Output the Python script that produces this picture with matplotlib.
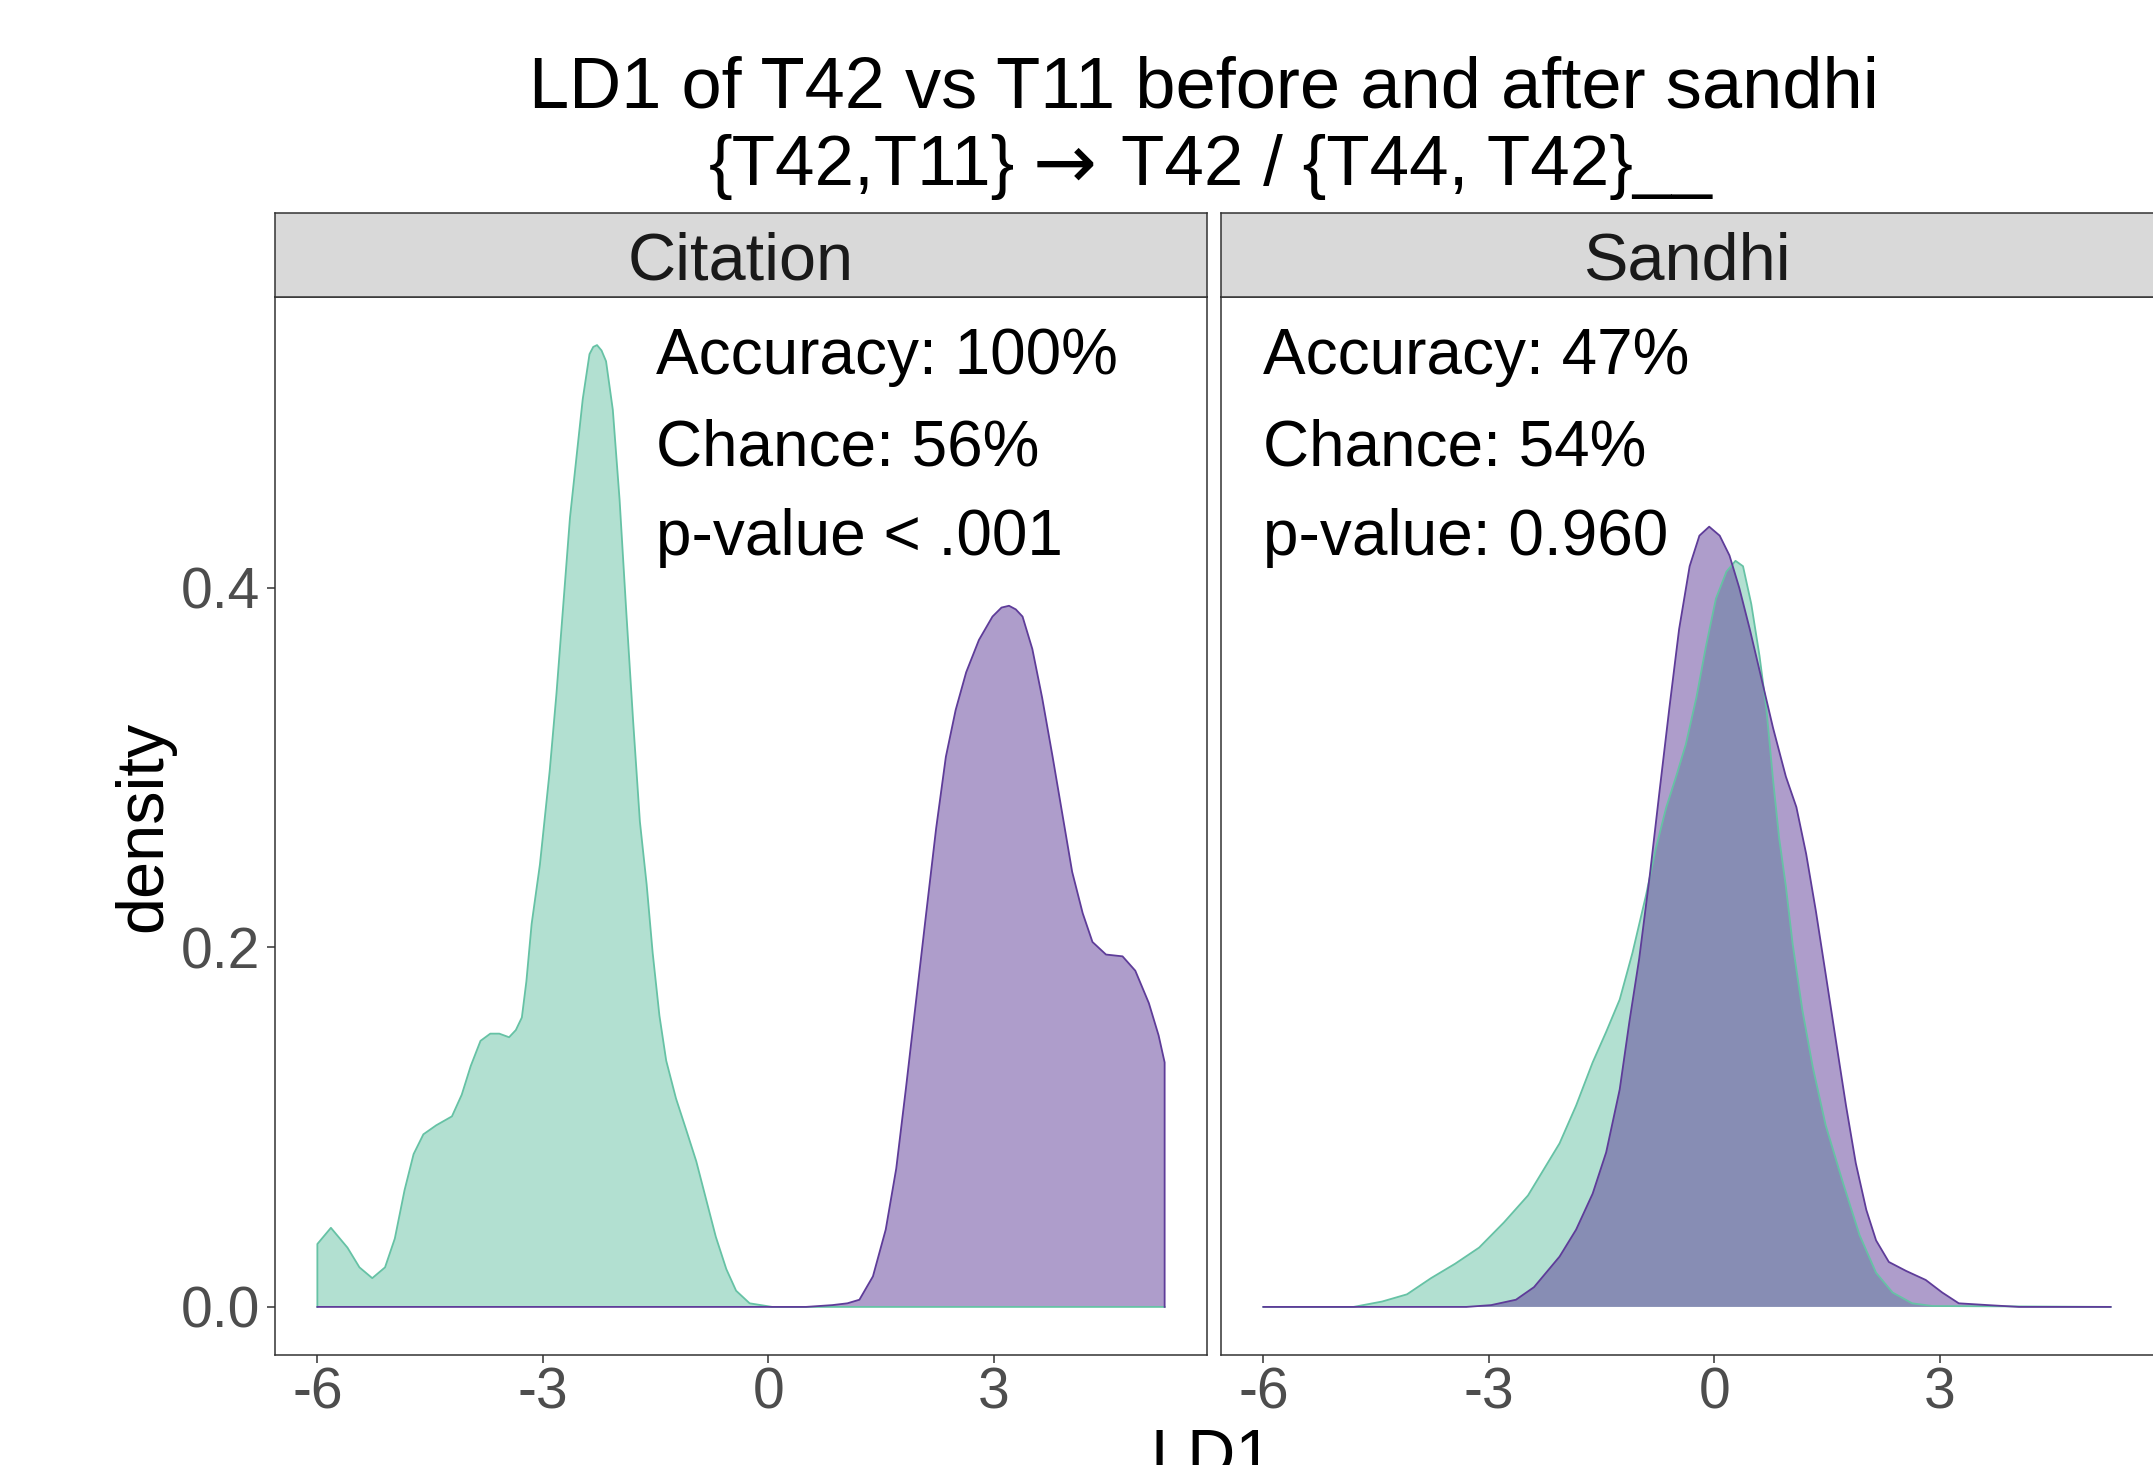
import matplotlib
matplotlib.use("Agg")
import matplotlib.pyplot as plt

plt.rcParams["font.family"] = ["Liberation Sans", "DejaVu Sans"]

# density curves (LD1, density)
cit_green_x = [-6.0, -5.82, -5.6, -5.44, -5.27, -5.1, -4.97, -4.84, -4.72, -4.59, -4.42,
               -4.21, -4.08, -3.96, -3.83, -3.70, -3.58, -3.45, -3.36, -3.28, -3.22, -3.15,
               -3.04, -2.91, -2.82, -2.73, -2.64, -2.55, -2.47, -2.38, -2.33, -2.28, -2.22,
               -2.16, -2.07, -1.98, -1.89, -1.80, -1.71, -1.62, -1.54, -1.45, -1.36, -1.23,
               -1.09, -0.96, -0.83, -0.70, -0.56, -0.43, -0.25, 0.05, 5.27]
cit_green_y = [0.035, 0.044, 0.033, 0.022, 0.016, 0.022, 0.038, 0.065, 0.085, 0.096, 0.101,
               0.106, 0.118, 0.134, 0.148, 0.152, 0.152, 0.150, 0.154, 0.161, 0.181, 0.213,
               0.246, 0.298, 0.341, 0.390, 0.439, 0.474, 0.505, 0.530, 0.534, 0.535, 0.532,
               0.526, 0.499, 0.449, 0.386, 0.326, 0.270, 0.235, 0.197, 0.162, 0.137, 0.116,
               0.098, 0.081, 0.060, 0.039, 0.021, 0.009, 0.002, 0.0, 0.0]

cit_purple_x = [-6.0, 0.5, 0.85, 1.05, 1.21, 1.39, 1.56, 1.70, 1.83, 1.96, 2.09, 2.23, 2.36,
                2.49, 2.63, 2.80, 2.98, 3.10, 3.20, 3.29, 3.38, 3.51, 3.64, 3.78, 3.91, 4.04,
                4.18, 4.31, 4.49, 4.71, 4.88, 5.06, 5.19, 5.27]
cit_purple_y = [0.0, 0.0, 0.001, 0.002, 0.004, 0.017, 0.043, 0.077, 0.122, 0.169, 0.216,
                0.266, 0.306, 0.332, 0.353, 0.371, 0.384, 0.389, 0.390, 0.388, 0.384, 0.366,
                0.339, 0.306, 0.274, 0.242, 0.219, 0.203, 0.196, 0.195, 0.187, 0.169, 0.151,
                0.136]

san_green_x = [-6.0, -4.8, -4.42, -4.09, -3.77, -3.45, -3.13, -2.80, -2.48, -2.06, -1.84,
               -1.62, -1.44, -1.26, -1.09, -0.91, -0.78, -0.64, -0.51, -0.38, -0.24, -0.11,
               0.02, 0.16, 0.28, 0.38, 0.49, 0.60, 0.69, 0.78, 0.86, 0.95, 1.04, 1.17, 1.31,
               1.48, 1.71, 1.93, 2.15, 2.37, 2.63, 2.90, 5.27]
san_green_y = [0.0, 0.0, 0.003, 0.007, 0.016, 0.024, 0.033, 0.047, 0.062, 0.091, 0.112,
               0.136, 0.153, 0.171, 0.197, 0.229, 0.255, 0.278, 0.295, 0.313, 0.339, 0.368,
               0.394, 0.409, 0.415, 0.412, 0.391, 0.362, 0.333, 0.293, 0.261, 0.234, 0.202,
               0.165, 0.133, 0.101, 0.069, 0.040, 0.019, 0.008, 0.002, 0.0005, 0.0]

san_purple_x = [-6.0, -3.3, -2.97, -2.64, -2.40, -2.06, -1.84, -1.62, -1.44, -1.26, -1.13,
                -1.00, -0.86, -0.73, -0.60, -0.47, -0.33, -0.20, -0.07, 0.07, 0.20, 0.33,
                0.47, 0.60, 0.78, 0.95, 1.09, 1.22, 1.35, 1.48, 1.62, 1.75, 1.88, 2.02, 2.15,
                2.32, 2.55, 2.81, 3.03, 3.25, 3.64, 4.05, 5.27]
san_purple_y = [0.0, 0.0, 0.001, 0.004, 0.011, 0.028, 0.043, 0.063, 0.086, 0.121, 0.159,
                0.194, 0.240, 0.287, 0.333, 0.377, 0.412, 0.429, 0.434, 0.429, 0.418, 0.400,
                0.377, 0.354, 0.322, 0.295, 0.278, 0.252, 0.220, 0.185, 0.147, 0.112, 0.080,
                0.054, 0.037, 0.025, 0.020, 0.015, 0.008, 0.002, 0.001, 0.0, 0.0]

panels = ["Citation", "Sandhi"]
stats_text = [
    ["Accuracy: 100%", "Chance: 56%", "p-value < .001"],
    ["Accuracy: 47%", "Chance: 54%", "p-value: 0.960"],
]
text_x = [-1.5, -6.0]
text_y = [0.519, 0.468, 0.418]

x_ticks = [-6, -3, 0, 3]
y_ticks = [0.0, 0.2, 0.4]

GREEN = "#66c2a5"
PURPLE = "#5e3c99"
BORDER = "#333333"

curves = [
    [(cit_green_x, cit_green_y, GREEN), (cit_purple_x, cit_purple_y, PURPLE)],
    [(san_green_x, san_green_y, GREEN), (san_purple_x, san_purple_y, PURPLE)],
]

W, H = 2153, 1465
fig = plt.figure(figsize=(W / 100, H / 100), dpi=100)


def fx(px):
    return px / W


def fy(py):
    return 1 - py / H


# ggplot-style 5% expansion of the data range
all_x = cit_green_x + cit_purple_x + san_green_x + san_purple_x
all_y = cit_green_y + cit_purple_y + san_green_y + san_purple_y
xmin, xmax = min(all_x), max(all_x)
ymin, ymax = 0.0, max(all_y)
xpad = 0.05 * (xmax - xmin)
ypad = 0.05 * (ymax - ymin)

panel_w = 932
panel_lefts = [275, 1221]
panel_top, panel_bot = 297, 1355
strip_top = 213

for i, name in enumerate(panels):
    left = panel_lefts[i]
    ax = fig.add_axes([fx(left), fy(panel_bot), panel_w / W, (panel_bot - panel_top) / H])
    for xs, ys, col in curves[i]:
        px = [xs[0]] + xs + [xs[-1]]
        py = [0.0] + ys + [0.0]
        ax.fill(px, py, facecolor=col, alpha=0.5, edgecolor="none")
        ax.plot(px, py, color=col, lw=1.3, solid_joinstyle="round")
    ax.set_xlim(xmin - xpad, xmax + xpad)
    ax.set_ylim(ymin - ypad, ymax + ypad)
    ax.set_xticks(x_ticks)
    ax.set_xticklabels([str(t) for t in x_ticks])
    ax.tick_params(axis="x", length=6, width=1.1, color=BORDER, pad=2,
                   labelsize=41, labelcolor="#4d4d4d")
    if i == 0:
        ax.set_yticks(y_ticks)
        ax.set_yticklabels([f"{t:.1f}" for t in y_ticks])
        ax.tick_params(axis="y", length=6, width=1.1, color=BORDER, pad=5,
                       labelsize=41, labelcolor="#4d4d4d")
    else:
        ax.set_yticks([])
    for s in ax.spines.values():
        s.set_color(BORDER)
        s.set_linewidth(1.1)
    if i == 1:
        ax.spines["right"].set_visible(False)
    for j, t in enumerate(stats_text[i]):
        ax.text(text_x[i], text_y[j], t, fontsize=46, color="black",
                ha="left", va="baseline")

    # facet strip
    sax = fig.add_axes([fx(left), fy(panel_top), panel_w / W, (panel_top - strip_top) / H])
    sax.set_facecolor("#d9d9d9")
    sax.set_xticks([])
    sax.set_yticks([])
    for s in sax.spines.values():
        s.set_color(BORDER)
        s.set_linewidth(1.1)
    if i == 1:
        sax.spines["right"].set_visible(False)
    fig.text(fx(left + panel_w / 2), fy(280), name, ha="center", va="baseline",
             fontsize=48, color="#1a1a1a")

# title, second line in three pieces so the arrow can be wider
fig.text(fx(1204), fy(107), "LD1 of T42 vs T11 before and after sandhi",
         ha="center", va="baseline", fontsize=52)
fig.text(fx(1015), fy(185), "{T42,T11}", ha="right", va="baseline", fontsize=51)
fig.text(fx(1065), fy(188), "\u2192", ha="center", va="baseline", fontsize=55,
         family=["DejaVu Sans"])
fig.text(fx(1121), fy(185), "T42 / {T44, T42}__", ha="left", va="baseline", fontsize=51)

fig.text(fx(144), fy(826), "density", rotation=90, ha="center", va="center", fontsize=48)
fig.text(fx(1212), fy(1428), "LD1", ha="center", va="top", fontsize=48)

fig.savefig("out.png", dpi=100)
